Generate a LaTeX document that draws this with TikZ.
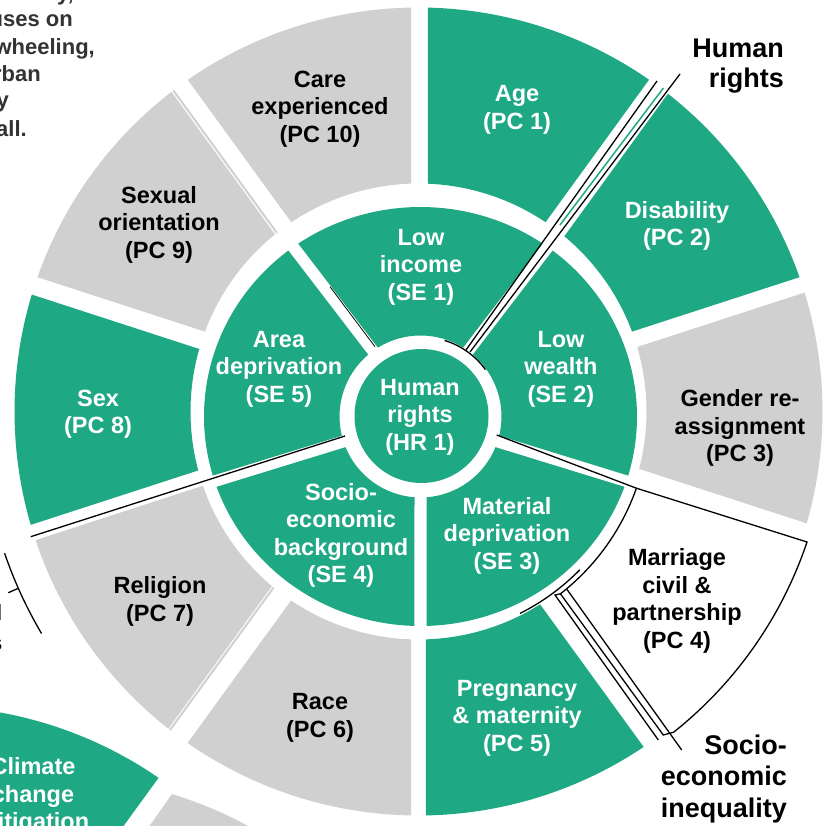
\documentclass[tikz,border=0pt]{standalone}
\usepackage{fontspec}
\setmainfont{Liberation Sans}
\definecolor{grn}{RGB}{31,168,132}
\definecolor{gry}{RGB}{208,208,208}
\definecolor{txtgray}{RGB}{51,51,51}
% outer ring sector: style, a1, a2, d1, d2
\newcommand\outsec[5]{%
 \pgfmathsetmacro\rsAo{#2+asin(#4/404)}%
 \pgfmathsetmacro\rsAt{#3-asin(#5/404)}%
 \pgfmathsetmacro\rsIo{#2+asin(#4/228)}%
 \pgfmathsetmacro\rsIt{#3-asin(#5/228)}%
 \fill[shift={(418.5,411.5)},#1] (\rsAo:404) arc[start angle=\rsAo,end angle=\rsAt,radius=404] -- (\rsIt:228) arc[start angle=\rsIt,end angle=\rsIo,radius=228] -- cycle;}
% middle ring sector: style, a1, a2
\newcommand\midsec[3]{%
 \pgfmathsetmacro\rsAo{#2+asin(6/213)}%
 \pgfmathsetmacro\rsAt{#3-asin(6/213)}%
 \pgfmathsetmacro\rsIo{#2+asin(6/81)}%
 \pgfmathsetmacro\rsIt{#3-asin(6/81)}%
 \fill[shift={(420.5,416.5)},#1] (\rsAo:216.5 and 209.5) arc[start angle=\rsAo,end angle=\rsAt,x radius=216.5,y radius=209.5] -- (\rsIt:81) arc[start angle=\rsIt,end angle=\rsIo,radius=81] -- cycle;}
\tikzset{
 lbl/.style={align=center,font=\fontsize{23.5}{27.5}\selectfont\bfseries,inner sep=0pt},
 wl/.style={lbl,text=white},
 bl/.style={lbl,text=black},
 hdr/.style={align=right,anchor=east,inner sep=0pt,font=\fontsize{27}{30.5}\selectfont\bfseries,text=black},
 tl/.style={anchor=base east,inner sep=0pt,font=\fontsize{22}{27.5}\selectfont\bfseries,text=txtgray},
 blk/.style={draw=black,line width=1.3pt},
 thin gray/.style={draw=gry,line width=2pt}
}
\begin{document}
\begin{tikzpicture}[x=1pt,y=-1pt]
\useasboundingbox (0,0) rectangle (827,826);
\clip (0,0) rectangle (827,826);
\fill[white] (0,0) rectangle (827,826);
% neighbouring wheel, bottom left
\fill[grn,shift={(-72,1112)}] (-100:406) arc[start angle=-100,end angle=-55.4,radius=406] -- (-56.5:228) arc[start angle=-56.5,end angle=-100,radius=228] -- cycle;
\fill[gry] (146.7,830) -- (172,794) .. controls (200,803) and (226,813) .. (255,830) -- cycle;
% outer ring
\outsec{grn}{-90}{-54}{9.5}{8.5}
\outsec{grn}{-54}{-18}{15}{10}
\outsec{gry}{-18}{18}{6.2}{13.6}
\outsec{grn}{54}{90}{15}{7.5}
\outsec{gry}{90}{126}{7.5}{8}
\outsec{gry}{126}{162}{16}{4}
\outsec{grn}{162}{198}{12}{8.3}
\outsec{gry}{198}{234}{10}{12}
\outsec{gry}{234}{270}{8.3}{7.5}
\draw[thin gray,shift={(418.5,411.5)}] ({234-asin(9.6/404)}:404) -- ({234-asin(9.6/228)}:228);
\draw[thin gray,shift={(418.5,411.5)}] ({126+asin(13.8/404)}:404) -- ({126+asin(13.8/228)}:228);
% middle ring
\midsec{grn}{234}{306}
\midsec{grn}{306}{378}
\midsec{grn}{18}{90}
\midsec{grn}{90}{162}
\midsec{grn}{162}{234}
% centre
\fill[grn] (421.5,416) circle[radius=67];
% group outlines
\coordinate (hrA) at (466,350);
\coordinate (hrB) at (657,81);
\coordinate (hrC) at (470,352);
\coordinate (hrD) at (680,74);
\draw[blk] (421.5,416) ++(-73:79) arc[start angle=-73,end angle=-36,radius=79];
\draw[blk] (hrA) -- (hrB);
\draw[blk] (hrC) -- (hrD);
\draw[grn,line width=1.5pt] (560,225) -- (663.4,88);
\coordinate (seA) at (496.7,435);
\coordinate (seB) at (636.4,488.2);
\draw[blk] (seA) -- (seB);
\draw[blk] (seB) -- (807,542) arc[start angle=18.57,end angle=51.5,radius=409.8] -- (663.3,735) -- (560.4,593.8) arc[start angle=52.1,end angle=19.4,radius=231] -- cycle;
\draw[blk] (560.4,593.8) -- (555,595) -- (658.3,740);
\draw[blk] (566.7,589) -- (681.7,750);
\draw[blk] (418.5,411.5) ++(44.5:226) arc[start angle=44.5,end angle=63.3,radius=226];
\coordinate (lfA) at (345,436);
\coordinate (lfB) at (30.7,536.7);
\draw[blk] (lfA) -- (lfB);
\draw[draw=black,line width=0.8pt] (375,346.7) -- (330,286.7);
\draw[blk] (418.5,411.5) ++(161.1:437.5) arc[start angle=161.1,end angle=149.5,radius=437.5];
\draw[blk] (8.3,592.7) -- (18.3,588.3);
% labels
\node[bl] (pc10) at (320,109) {Care\\experienced\\(PC 10)};
\node[wl] (pc1) at (517,110) {Age\\(PC 1)};
\node[wl] (pc2) at (677,226) {Disability\\(PC 2)};
\node[bl] (pc3) at (740,428) {Gender re-\\assignment\\(PC 3)};
\node[bl] (pc4) at (677,601) {Marriage\\civil \&\\partnership\\(PC 4)};
\node[wl] (pc5) at (517,718) {Pregnancy\\\& maternity\\(PC 5)};
\node[bl] (pc6) at (320,718) {Race\\(PC 6)};
\node[bl] (pc7) at (160,601.5) {Religion\\(PC 7)};
\node[wl] (pc8) at (98,414) {Sex\\(PC 8)};
\node[bl] (pc9) at (159,224.5) {Sexual\\orientation\\(PC 9)};
\node[wl] (se1) at (421,267) {Low\\income\\(SE 1)};
\node[wl] (se2) at (561,369) {Low\\wealth\\(SE 2)};
\node[wl] (se3) at (507,535.5) {Material\\deprivation\\(SE 3)};
\node[wl] (se4) at (341,535.5) {Socio-\\economic\\background\\(SE 4)};
\node[wl] (se5) at (279,369) {Area\\deprivation\\(SE 5)};
\node[wl] (hr1) at (420,417) {Human\\rights\\(HR 1)};
\node[wl] (ccm) at (33,796) {Climate\\change\\mitigation};
\node[hdr] (hrlab) at (784,66) {Human\\rights};
\node[hdr,font=\fontsize{27}{31.5}\selectfont\bfseries] (selab) at (787,779) {Socio-\\economic\\inequality};
\node[tl] (t0) at (74,1) {y,};
\node[tl] (t1) at (73,27) {uses on};
\node[tl] (t2) at (95,55) {wheeling,};
\node[tl] (t3) at (41,82) {rban};
\node[tl] (t4) at (9,108) {y};
\node[tl] (t5) at (27,137) {all.};
\node[tl,text=black] (t6) at (2.5,620) {l};
\node[tl,text=black] (t7) at (2.5,650) {s};
\end{tikzpicture}
\end{document}
